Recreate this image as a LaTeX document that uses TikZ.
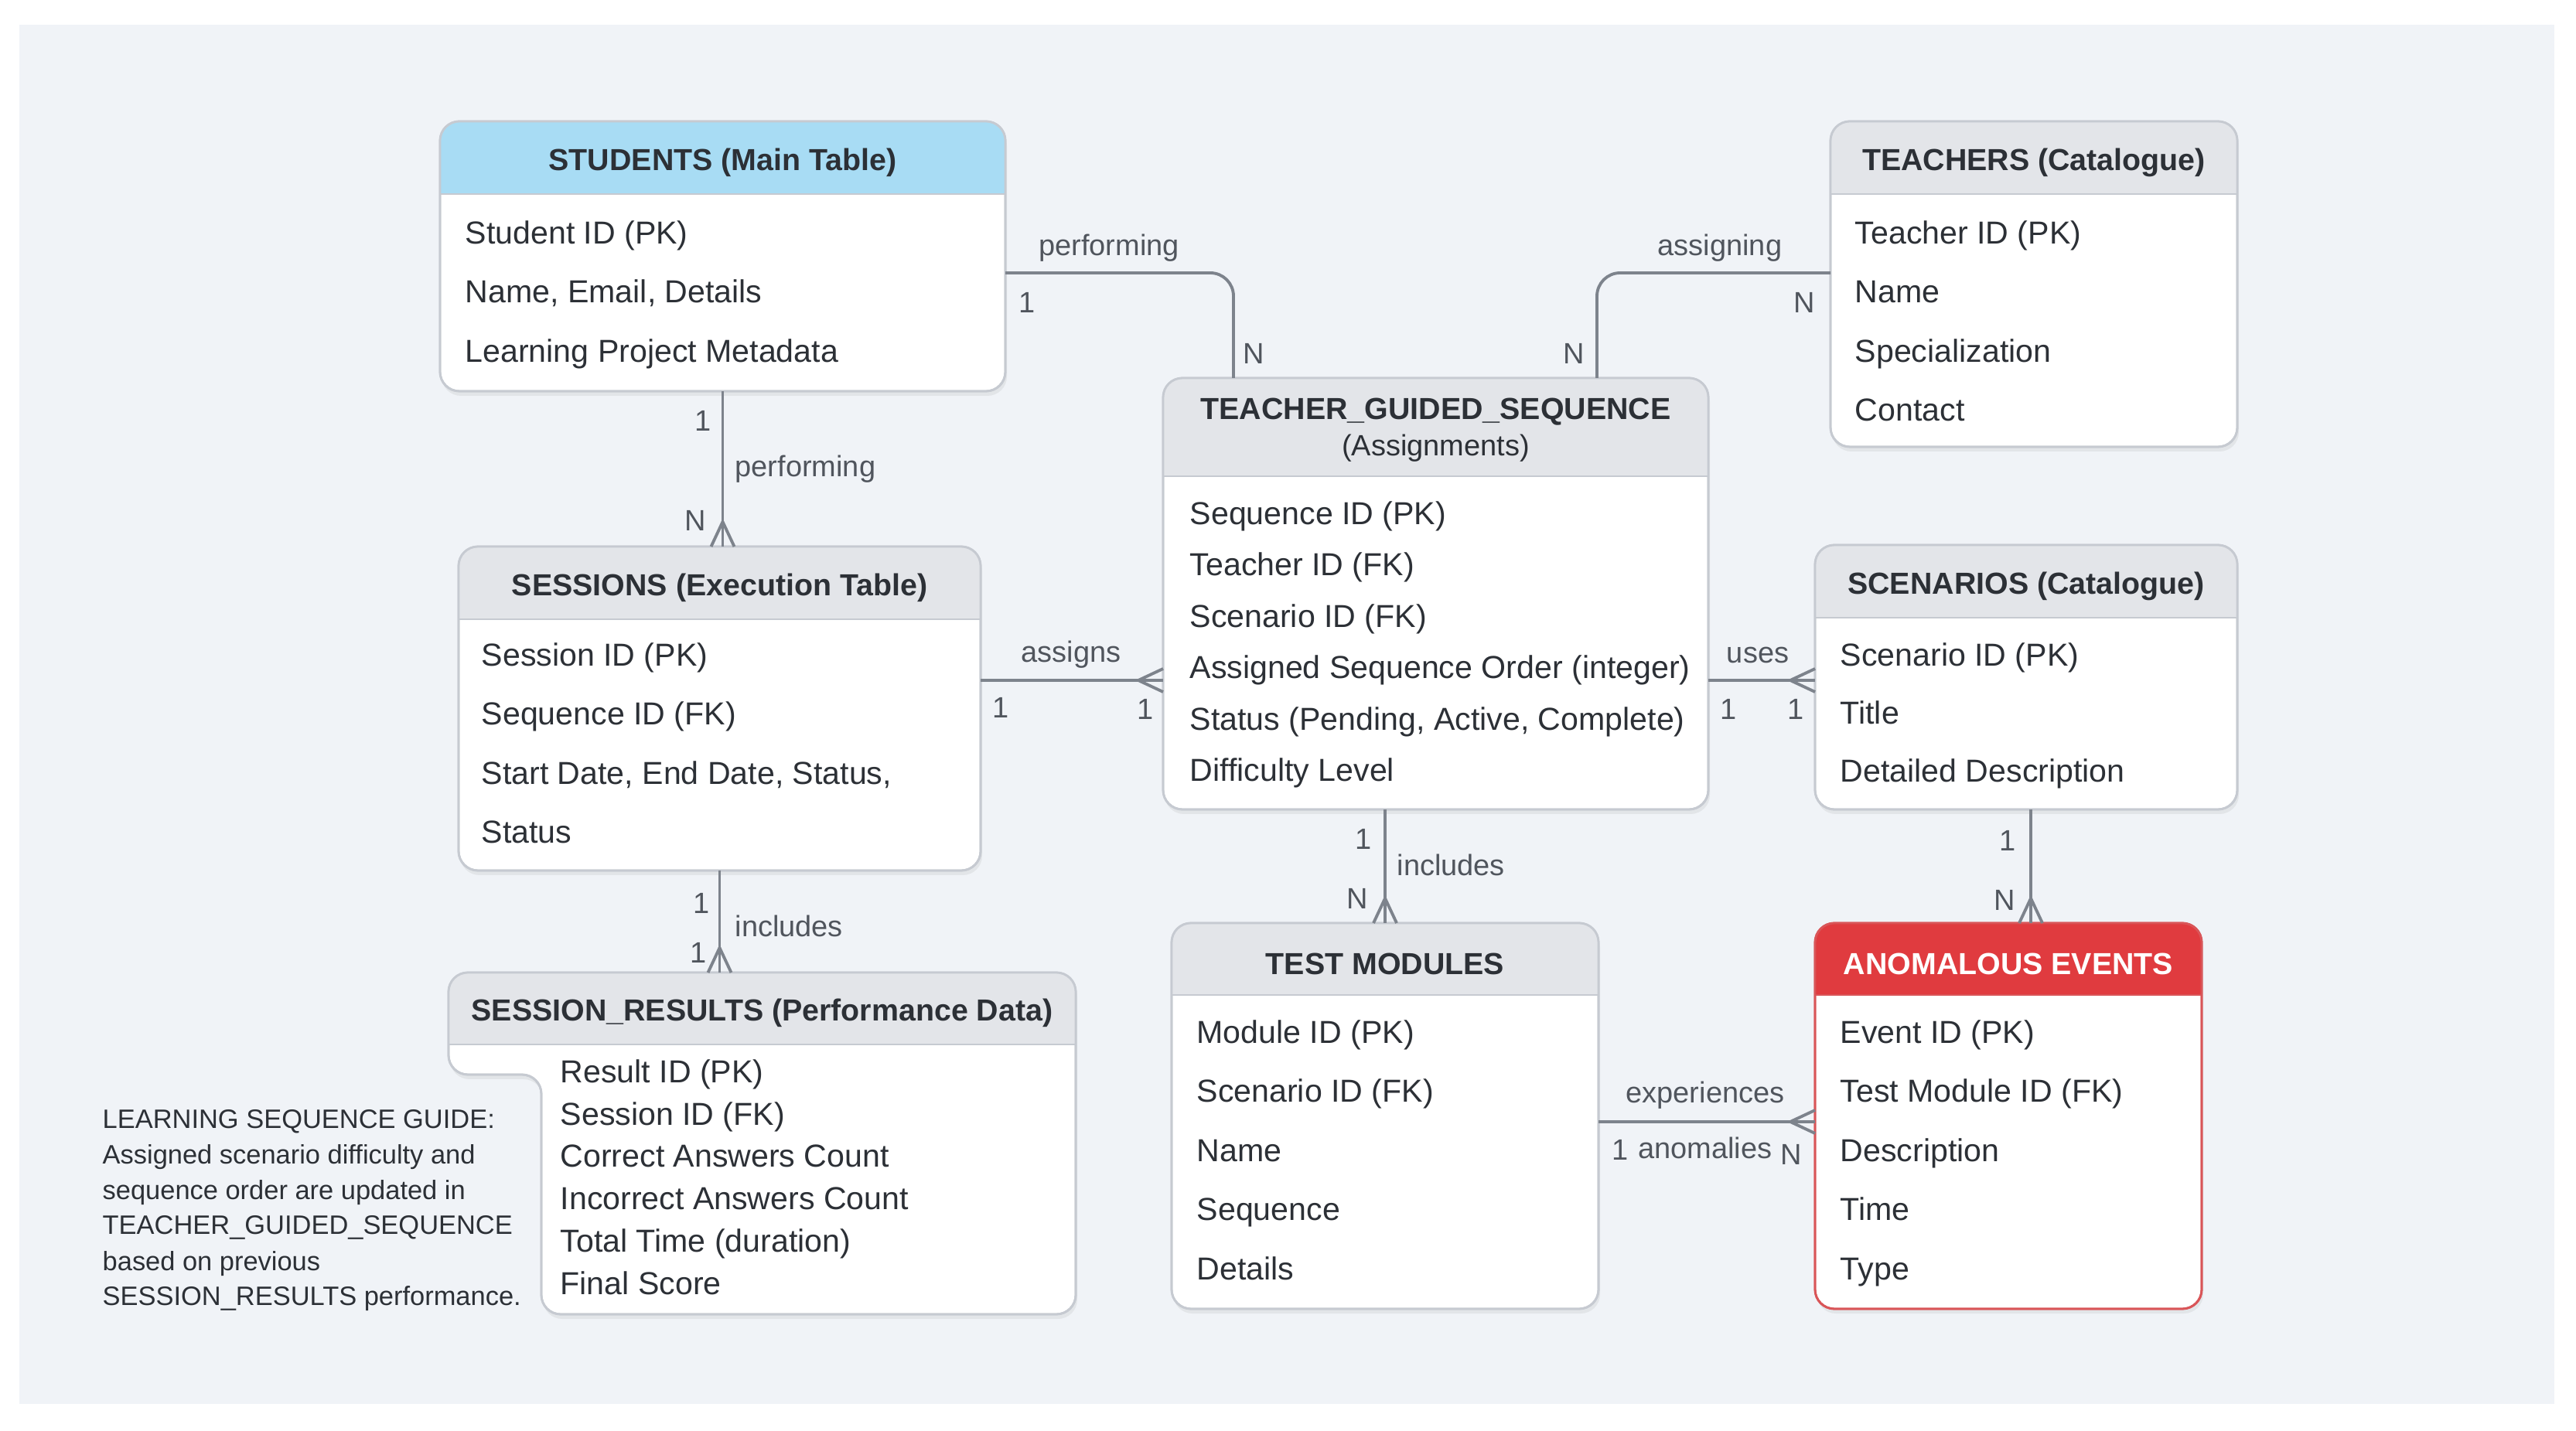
\documentclass[tikz,border=0pt]{standalone}
\usepackage{fontspec}
\setmainfont{Liberation Sans}
\usetikzlibrary{calc,shadows}

\definecolor{panelbg}{HTML}{F0F3F7}
\definecolor{boxline}{HTML}{C6CAD1}
\definecolor{headgray}{HTML}{E3E5E9}
\definecolor{headblue}{HTML}{A8DCF4}
\definecolor{headred}{HTML}{E03B3F}
\definecolor{aeline}{HTML}{D95558}
\definecolor{linegray}{HTML}{7D838C}
\definecolor{textdark}{HTML}{2C3036}
\definecolor{labelgray}{HTML}{50555D}

% header band of a table node: node, height, fill, border
\newcommand{\headband}[4]{%
  \begin{scope}
    \clip[rounded corners=0.25cm] (#1.south west) rectangle (#1.north east);
    \fill[#3] (#1.north west) rectangle ([yshift=-#2]#1.north east);
  \end{scope}
  \draw[#4, line width=0.7pt] ([yshift=-#2]#1.north west) -- ([yshift=-#2]#1.north east);
  \draw[#4, line width=0.8pt, rounded corners=0.25cm] (#1.south west) rectangle (#1.north east);
}
% crow's foot at a named point, direction into the table
\newcommand{\crowfoot}[2]{%
  \draw[conn, shift={(#1)}, rotate=#2] (-0.32,0) -- (0,0.15) (-0.32,0) -- (0,-0.15);
}

\begin{document}
\begin{tikzpicture}
    % styles
    \tikzset{
        tbl/.style={rectangle, rounded corners=0.25cm, draw=boxline, line width=0.8pt, fill=white,
            anchor=north west, inner sep=0pt, outer sep=0pt,
            drop shadow={opacity=0.12, shadow xshift=0.02cm, shadow yshift=-0.06cm}},
        headtxt/.style={font=\bfseries\fontsize{11.2}{13}\selectfont, text=textdark, inner sep=0pt, yshift=-0.06cm},
        attr/.style={anchor=west, font=\fontsize{11.7}{14}\selectfont, text=textdark, inner sep=0pt,
            text height=8.6pt, text depth=2.4pt, yshift=-0.045cm},
        lbl/.style={font=\fontsize{10.8}{13}\selectfont, text=labelgray, inner sep=0pt, yshift=-0.04cm},
        note/.style={anchor=west, font=\fontsize{9.8}{12}\selectfont, text=textdark, inner sep=0pt, yshift=-0.04cm},
        conn/.style={draw=linegray, line width=1.1pt},
    }

    % background
    \fill[white] (0,0) rectangle (33.31,18.5);
    \fill[panelbg] (0.25,0.34) rectangle (33.03,18.18);
    \useasboundingbox (0,0) rectangle (33.31,18.5);

    % STUDENTS
    \node[tbl, minimum width=7.31cm, minimum height=3.49cm] (stu) at (5.69,16.93) {};
    \headband{stu}{0.94cm}{headblue}{boxline}
    \node[headtxt] (stu-h) at ($(stu.north)+(0,-0.47)$) {STUDENTS (Main Table)};
    \foreach \t [count=\i] in {Student ID (PK), {Name, Email, Details}, Learning Project Metadata} {
        \node[attr] (stu\i) at (6.01,{15.50-0.765*(\i-1)}) {\t};
    }

    % TEACHERS
    \node[tbl, minimum width=5.26cm, minimum height=4.21cm] (tch) at (23.67,16.93) {};
    \headband{tch}{0.94cm}{headgray}{boxline}
    \node[headtxt] (tch-h) at ($(tch.north)+(0,-0.47)$) {TEACHERS (Catalogue)};
    \foreach \t [count=\i] in {Teacher ID (PK), Name, Specialization, Contact} {
        \node[attr] (tch\i) at (23.98,{15.50-0.765*(\i-1)}) {\t};
    }

    % TEACHER_GUIDED_SEQUENCE
    \node[tbl, minimum width=7.05cm, minimum height=5.58cm] (tgs) at (15.04,13.61) {};
    \headband{tgs}{1.27cm}{headgray}{boxline}
    \node[headtxt] (tgs-h1) at ($(tgs.north)+(0,-0.38)$) {TEACHER\_GUIDED\_SEQUENCE};
    \node[lbl, text=textdark] (tgs-h2) at ($(tgs.north)+(0,-0.87)$) {(Assignments)};
    \foreach \t [count=\i] in {Sequence ID (PK), Teacher ID (FK), Scenario ID (FK),
        Assigned Sequence Order (integer), {Status (Pending, Active, Complete)}, Difficulty Level} {
        \node[attr] (tgs\i) at (15.38,{11.87-0.665*(\i-1)}) {\t};
    }

    % SESSIONS
    \node[tbl, minimum width=6.75cm, minimum height=4.19cm] (ses) at (5.93,11.43) {};
    \headband{ses}{0.94cm}{headgray}{boxline}
    \node[headtxt] (ses-h) at ($(ses.north)+(0,-0.47)$) {SESSIONS (Execution Table)};
    \foreach \t [count=\i] in {Session ID (PK), Sequence ID (FK), {Start Date, End Date, Status,}, Status} {
        \node[attr] (ses\i) at (6.22,{10.04-0.765*(\i-1)}) {\t};
    }

    % SCENARIOS
    \node[tbl, minimum width=5.46cm, minimum height=3.42cm] (scn) at (23.47,11.45) {};
    \headband{scn}{0.94cm}{headgray}{boxline}
    \node[headtxt] (scn-h) at ($(scn.north)+(0,-0.47)$) {SCENARIOS (Catalogue)};
    \foreach \t [count=\i] in {Scenario ID (PK), Title, Detailed Description} {
        \node[attr] (scn\i) at (23.79,{10.04-0.75*(\i-1)}) {\t};
    }

    % SESSION_RESULTS (notched body)
    \filldraw[draw=boxline, line width=0.8pt, fill=white, rounded corners=0.25cm,
        drop shadow={opacity=0.12, shadow xshift=0.02cm, shadow yshift=-0.06cm}]
        (5.80,5.30) -- (5.80,5.92) -- (13.91,5.92) -- (13.91,1.50) -- (7.00,1.50)
        -- (7.00,4.60) -- (5.80,4.60) -- cycle;
    \node[anchor=north west, minimum width=8.11cm, minimum height=0.93cm, inner sep=0pt, outer sep=0pt] (res) at (5.80,5.92) {};
    \begin{scope}
        \clip[rounded corners=0.25cm] (5.80,4.60) rectangle (13.91,5.92);
        \fill[headgray] (res.south west) rectangle (res.north east);
    \end{scope}
    \draw[boxline, line width=0.7pt] (res.south west) -- (res.south east);
    \draw[boxline, line width=0.8pt, rounded corners=0.25cm]
        (5.80,5.30) -- (5.80,5.92) -- (13.91,5.92) -- (13.91,1.50) -- (7.00,1.50)
        -- (7.00,4.60) -- (5.80,4.60) -- cycle;
    \node[headtxt] (res-h) at (res.center) {SESSION\_RESULTS (Performance Data)};
    \foreach \t [count=\i] in {Result ID (PK), Session ID (FK), Correct Answers Count,
        Incorrect Answers Count, Total Time (duration), Final Score} {
        \node[attr] (res\i) at (7.24,{4.65-0.548*(\i-1)}) {\t};
    }

    % TEST MODULES
    \node[tbl, minimum width=5.52cm, minimum height=4.99cm] (tm) at (15.15,6.56) {};
    \headband{tm}{0.93cm}{headgray}{boxline}
    \node[headtxt] (tm-h) at ($(tm.north)+(0,-0.465)$) {TEST MODULES};
    \foreach \t [count=\i] in {Module ID (PK), Scenario ID (FK), Name, Sequence, Details} {
        \node[attr] (tm\i) at (15.47,{5.16-0.765*(\i-1)}) {\t};
    }

    % ANOMALOUS EVENTS
    \node[tbl, draw=aeline, minimum width=5.00cm, minimum height=4.99cm] (ae) at (23.47,6.56) {};
    \headband{ae}{0.93cm}{headred}{aeline}
    \node[headtxt, text=white] (ae-h) at ($(ae.north)+(0,-0.465)$) {ANOMALOUS EVENTS};
    \foreach \t [count=\i] in {Event ID (PK), Test Module ID (FK), Description, Time, Type} {
        \node[attr] (ae\i) at (23.79,{5.16-0.765*(\i-1)}) {\t};
    }

    % guide text
    \foreach \t [count=\i] in {LEARNING SEQUENCE GUIDE:, Assigned scenario difficulty and,
        sequence order are updated in, TEACHER\_GUIDED\_SEQUENCE, based on previous,
        SESSION\_RESULTS performance.} {
        \node[note] (guide\i) at (1.32,{4.03-0.458*(\i-1)}) {\t};
    }

    % connectors
    \draw[conn, rounded corners=0.3cm] ([yshift=-0.215cm]stu.east) -| ([xshift=0.91cm]tgs.north west);
    \draw[conn, rounded corners=0.3cm] ([yshift=0.145cm]tch.west) -| ([xshift=-1.44cm]tgs.north east);

    \coordinate (cf1) at (stu.south |- ses.north);
    \draw[conn] (stu.south) -- (cf1);
    \crowfoot{cf1}{-90}

    \coordinate (as0) at ([yshift=0.365cm]ses.east);
    \coordinate (cf2) at (as0 -| tgs.west);
    \draw[conn] (as0) -- (cf2);
    \crowfoot{cf2}{0}

    \coordinate (us0) at (as0 -| tgs.east);
    \coordinate (cf3) at (as0 -| scn.west);
    \draw[conn] (us0) -- (cf3);
    \crowfoot{cf3}{0}

    \coordinate (cf4) at (tm.north);
    \draw[conn] (tm.north |- tgs.south) -- (cf4);
    \crowfoot{cf4}{-90}

    \coordinate (sa0) at ([xshift=0.06cm]scn.south);
    \coordinate (cf5) at (sa0 |- ae.north);
    \draw[conn] (sa0) -- (cf5);
    \crowfoot{cf5}{-90}

    \coordinate (cf6) at (ses.south |- res.north);
    \draw[conn] (ses.south) -- (cf6);
    \crowfoot{cf6}{-90}

    \coordinate (ex0) at ([yshift=-0.075cm]tm.east);
    \coordinate (cf7) at (ex0 -| ae.west);
    \draw[conn] (ex0) -- (cf7);
    \crowfoot{cf7}{0}

    % connector labels
    \node[lbl] (l-perf1) at (14.34,15.33) {performing};
    \node[lbl] (l-perf1a) at (13.28,14.63) {1};
    \node[lbl] (l-perf1b) at (16.21,13.97) {N};
    \node[lbl] (l-asg) at (22.24,15.33) {assigning};
    \node[lbl] (l-asga) at (23.33,14.63) {N};
    \node[lbl] (l-asgb) at (20.35,13.97) {N};
    \node[lbl] (l-perf2a) at (9.09,13.10) {1};
    \node[lbl, anchor=west] (l-perf2) at (9.50,12.47) {performing};
    \node[lbl] (l-perf2b) at (8.99,11.81) {N};
    \node[lbl] (l-asn) at (13.85,10.07) {assigns};
    \node[lbl] (l-asna) at (12.94,9.39) {1};
    \node[lbl] (l-asnb) at (14.81,9.37) {1};
    \node[lbl] (l-use) at (22.73,10.07) {uses};
    \node[lbl] (l-usea) at (22.35,9.37) {1};
    \node[lbl] (l-useb) at (23.22,9.37) {1};
    \node[lbl] (l-inc1a) at (17.63,7.69) {1};
    \node[lbl, anchor=west] (l-inc1) at (18.06,7.35) {includes};
    \node[lbl] (l-inc1b) at (17.55,6.92) {N};
    \node[lbl] (l-sana) at (25.96,7.67) {1};
    \node[lbl] (l-sanb) at (25.92,6.90) {N};
    \node[lbl] (l-inc2a) at (9.07,6.86) {1};
    \node[lbl, anchor=west] (l-inc2) at (9.50,6.56) {includes};
    \node[lbl] (l-inc2b) at (9.03,6.22) {1};
    \node[lbl] (l-exp) at (22.05,4.37) {experiences};
    \node[lbl] (l-expa) at (20.95,3.67) {1};
    \node[lbl] (l-anom) at (22.05,3.69) {anomalies};
    \node[lbl] (l-expb) at (23.16,3.61) {N};
\end{tikzpicture}
\end{document}
